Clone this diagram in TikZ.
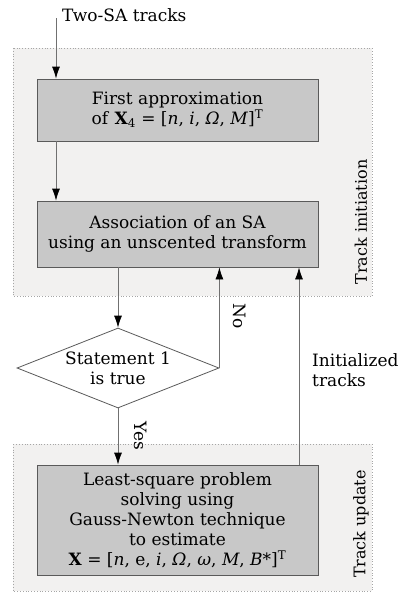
\documentclass[tikz,border=0pt]{standalone}
\usepackage{fontspec}
\setmainfont{DejaVu Serif}
\usetikzlibrary{shapes.geometric,arrows.meta}
\definecolor{outerfill}{HTML}{F2F1F0}
\definecolor{boxfill}{HTML}{C8C8C8}
\definecolor{boxline}{HTML}{5A5A5A}
\definecolor{conn}{HTML}{707070}
\begin{document}
\begin{tikzpicture}[x=1pt,y=-1pt,
  font=\fontsize{17}{20}\selectfont,
  region/.style={draw=gray!70, dotted, thick, fill=outerfill},
  procbox/.style={draw=boxline, thick, fill=boxfill, minimum width=281pt, align=center, inner sep=0pt},
  decide/.style={draw=boxline, thick, diamond, fill=white, shape aspect=2.525, minimum width=202pt, minimum height=80pt, inner sep=-6pt, align=center},
  conn/.style={draw=conn, thick, -{Latex[length=12pt,width=8pt,color=black]}},
  lbl/.style={inner sep=0pt, align=left},
  sidelbl/.style={inner sep=0pt, font=\fontsize{16}{20}\selectfont}
]
\useasboundingbox (0,0) rectangle (401,592);
% regions
\path[region] (13,48) rectangle (372,296);
\path[region] (13,444) rectangle (372,591);
\node[sidelbl, rotate=90] (tinit) at (361,222) {Track initiation};
\node[sidelbl, rotate=90] (tupd) at (361,524) {Track update};
% boxes
\node[procbox, minimum height=62pt] (b1) at (177.5,110) {First approximation\\of \textbf{X}\textsubscript{4} = [\textit{n}, \textit{i}, \textit{Ω}, \textit{M}]\textsuperscript{T}};
\node[procbox, minimum height=66pt] (b2) at (177.5,234) {Association of an SA\\using an unscented transform};
\node[decide] (d) at (118,368) {Statement 1\\is true};
\node[procbox, minimum height=110pt] (b3) at (177.5,520) {Least-square problem\\solving using\\Gauss-Newton technique\\to estimate\\\textbf{X} = [\textit{n}, e, \textit{i}, \textit{Ω}, \textit{ω}, \textit{M}, \textit{B*}]\textsuperscript{T}};
% input
\coordinate (in) at (56,18);
\node[lbl, anchor=west] (intxt) at (62,15) {Two-SA tracks};
\draw[conn] (in) -- (in |- b1.north);
\draw[conn] (b1.south -| in) -- (b2.north -| in);
\draw[conn] (b2.south -| d.north) -- (d.north);
\draw[conn] (d.east) -- (d.east |- b2.south);
\node[lbl, rotate=-90] (no) at (240,316) {No};
\draw[conn] (d.south) -- (d.south |- b3.north);
\node[lbl, rotate=-90] (yes) at (141,436) {Yes};
\coordinate (it) at (299,465);
\draw[conn] (it) -- (it |- b2.south);
\node[lbl, anchor=west] (ittxt) at (312,370) {Initialized\\tracks};
\end{tikzpicture}
\end{document}
